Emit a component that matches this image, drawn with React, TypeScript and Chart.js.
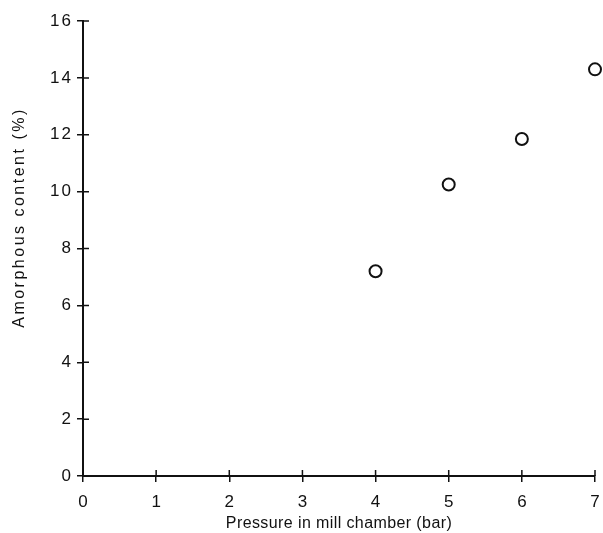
import React, { useEffect, useRef } from "react";
import { Chart, registerables } from "chart.js";

Chart.register(...registerables);

const pressures = [4, 5, 6, 7];
const amorphous = [7.2, 10.25, 11.85, 14.3];
const xTicks = [0, 1, 2, 3, 4, 5, 6, 7];
const yTicks = [0, 2, 4, 6, 8, 10, 12, 14, 16];

const FONT = "'Liberation Sans', Arial, sans-serif";

const spacing: Record<string, { title: string; labels: string; titleShift: number }> = {
  x: { title: "0.4px", labels: "0px", titleShift: 0 },
  y: { title: "2.5px", labels: "2px", titleShift: -31 },
};

const letterSpacingPlugin = {
  id: "letterSpacing",
  afterLayout(chart: any) {
    for (const id of ["x", "y"]) {
      const s = chart.scales[id];
      if (!s || s._lsPatched) continue;
      const origTitle = s.drawTitle.bind(s);
      const origLabels = s.drawLabels.bind(s);
      s.drawTitle = (...a: any[]) => {
        const c = chart.ctx;
        c.save();
        c.letterSpacing = spacing[id].title;
        c.translate(0, spacing[id].titleShift);
        origTitle(...a);
        c.restore();
      };
      s.drawLabels = (...a: any[]) => {
        const c = chart.ctx;
        c.save();
        c.letterSpacing = spacing[id].labels;
        origLabels(...a);
        c.restore();
      };
      s._lsPatched = true;
    }
  },
};

const innerTicks = {
  id: "innerTicks",
  afterDraw(chart: any) {
    const ctx = chart.ctx;
    const x = chart.scales.x;
    const y = chart.scales.y;
    ctx.save();
    ctx.strokeStyle = "#111";
    ctx.lineWidth = 1.5;
    ctx.beginPath();
    for (const t of xTicks) {
      const px = x.getPixelForValue(t);
      ctx.moveTo(px, y.bottom);
      ctx.lineTo(px, y.bottom - 6);
    }
    for (const t of yTicks) {
      const py = y.getPixelForValue(t);
      ctx.moveTo(x.left, py);
      ctx.lineTo(x.left + 6, py);
    }
    ctx.stroke();
    ctx.restore();
  },
};

export default function App() {
  const ref = useRef<HTMLCanvasElement>(null);
  useEffect(() => {
    if (!ref.current) return;
    const chart = new Chart(ref.current, {
      type: "scatter",
      data: {
        datasets: [
          {
            data: pressures.map((p, i) => ({ x: p, y: amorphous[i] })),
            pointRadius: 6,
            pointBorderWidth: 2,
            pointBorderColor: "#111",
            pointBackgroundColor: "#fff",
            clip: false as any,
          },
        ],
      },
      options: {
        animation: false,
        responsive: false,
        devicePixelRatio: 1,
        layout: { padding: { top: 21, right: 0, left: 0, bottom: 0 } },
        plugins: { legend: { display: false }, tooltip: { enabled: false } },
        scales: {
          x: {
            type: "linear",
            min: 0,
            max: 7,
            afterBuildTicks: (s: any) => {
              s.ticks = xTicks.map((v) => ({ value: v }));
            },
            afterFit: (s: any) => {
              s.height = 57;
              s.paddingRight = 4;
              s.paddingLeft = 0;
            },
            grid: {
              drawOnChartArea: false,
              drawTicks: true,
              tickLength: 6,
              color: "#111",
              lineWidth: 1.5,
            },
            border: { display: true, color: "#111", width: 2 },
            ticks: {
              color: "#111",
              padding: 10,
              font: { family: FONT, size: 17 },
            },
            title: {
              display: true,
              text: "Pressure in mill chamber (bar)",
              color: "#111",
              font: { family: FONT, size: 16 },
              padding: { top: 2, bottom: 0 },
            },
          },
          y: {
            type: "linear",
            min: 0,
            max: 16,
            afterBuildTicks: (s: any) => {
              s.ticks = yTicks.map((v) => ({ value: v }));
            },
            afterFit: (s: any) => {
              s.width = 83;
            },
            grid: {
              drawOnChartArea: false,
              drawTicks: true,
              tickLength: 6,
              color: "#111",
              lineWidth: 1.5,
            },
            border: { display: true, color: "#111", width: 2 },
            ticks: {
              color: "#111",
              padding: 4,
              font: { family: FONT, size: 17 },
            },
            title: {
              display: true,
              text: "Amorphous content (%)",
              color: "#111",
              font: { family: FONT, size: 16 },
              padding: { top: 10, bottom: 4 },
            },
          },
        },
      },
      plugins: [letterSpacingPlugin, innerTicks],
    });
    return () => chart.destroy();
  }, []);
  return (
    <div style={{ position: "fixed", left: 0, top: 0, width: 603, height: 533, background: "#fff" }}>
      <canvas ref={ref} width={603} height={533} />
    </div>
  );
}
